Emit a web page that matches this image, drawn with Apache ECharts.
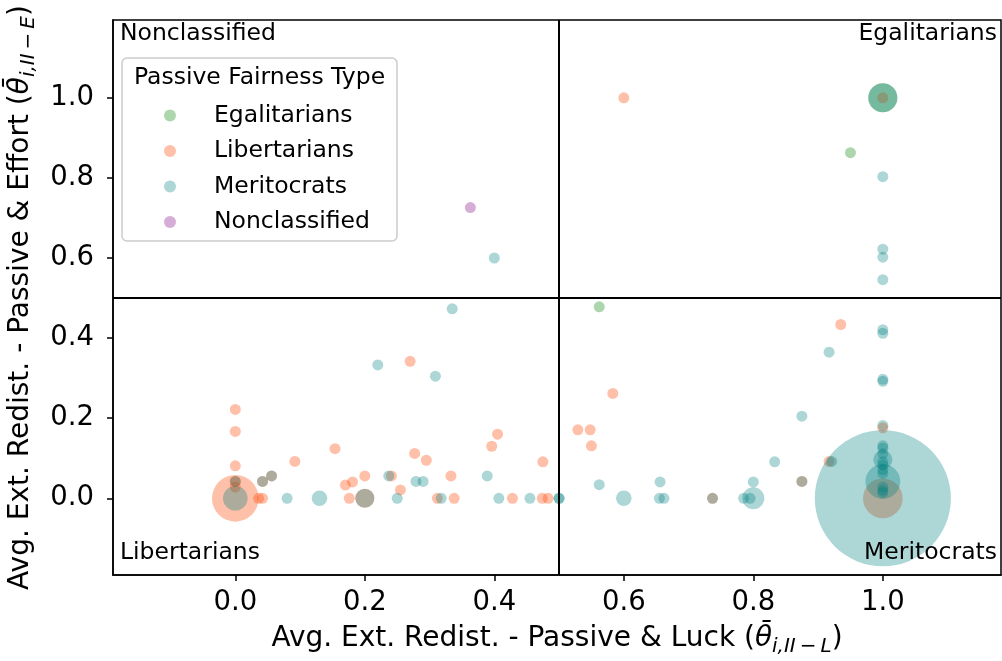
<!DOCTYPE html>
<html>
<head>
<meta charset="utf-8">
<script src="https://cdn.jsdelivr.net/npm/echarts@6/dist/echarts.min.js"></script>
<style>
  html, body { margin: 0; padding: 0; background: #ffffff; }
  #chart { width: 1002px; height: 661px; }
</style>
</head>
<body>
<div id="chart"></div>
<script>
// Each point: [avg. redistribution, passive & luck; avg. redistribution, passive & effort; participants]
const egalitarians = [
  [1.0, 1.0, 7], [0.95, 0.863, 1], [0.562, 0.478, 1]
];
const libertarians = [
  [0, 0, 18], [0, 0.222, 1], [0, 0.167, 1], [0, 0.081, 1], [0, 0.042, 1], [0, 0.028, 1],
  [0.036, 0, 1], [0.042, 0, 1], [0.042, 0.042, 1], [0.056, 0.056, 1], [0.092, 0.092, 1],
  [0.154, 0.124, 1], [0.170, 0.033, 1], [0.181, 0.041, 1], [0.176, 0, 1], [0.2, 0.056, 1],
  [0.2, 0, 3], [0.241, 0.056, 1], [0.270, 0.342, 1], [0.277, 0.112, 1], [0.295, 0.095, 1],
  [0.255, 0.021, 1], [0.333, 0.056, 1], [0.312, 0, 1], [0.338, 0, 1], [0.405, 0.160, 1],
  [0.396, 0.130, 1], [0.428, 0, 1], [0.475, 0.091, 1], [0.474, 0, 1], [0.483, 0, 1],
  [0.583, 0.262, 1], [0.529, 0.171, 1], [0.548, 0.171, 1], [0.550, 0.131, 1], [0.6, 1.0, 1],
  [0.737, 0, 1], [0.875, 0.042, 1], [0.917, 0.092, 1], [0.935, 0.434, 1], [1.0, 0.176, 1],
  [1.0, 1.0, 1], [1.0, 0, 13]
];
const meritocrats = [
  [0, 0, 5], [0, 0.042, 1], [0.042, 0.042, 1], [0.056, 0.056, 1], [0.08, 0, 1], [0.13, 0, 2],
  [0.2, 0, 3], [0.237, 0.056, 1], [0.22, 0.333, 1], [0.309, 0.305, 1], [0.335, 0.473, 1],
  [0.25, 0, 1], [0.279, 0.042, 1], [0.290, 0.042, 1], [0.318, 0, 1], [0.389, 0.056, 1],
  [0.407, 0, 1], [0.455, 0, 1], [0.4, 0.6, 1], [0.5, 0, 1], [0.5, 0, 1], [0.562, 0.034, 1],
  [0.6, 0, 2], [0.656, 0.041, 1], [0.655, 0, 1], [0.662, 0, 1], [0.737, 0, 1], [0.785, 0, 1],
  [0.795, 0, 1], [0.8, 0, 4], [0.8, 0.041, 1], [0.833, 0.091, 1], [0.875, 0.042, 1],
  [0.875, 0.205, 1], [0.917, 0.365, 1], [0.921, 0.092, 1],
  [1.0, 0, 153], [1.0, 1.0, 7], [1.0, 0.803, 1], [1.0, 0.622, 1], [1.0, 0.602, 1], [1.0, 0.546, 1],
  [1.0, 0.421, 1], [1.0, 0.412, 1], [1.0, 0.297, 1], [1.0, 0.292, 1], [1.0, 0.182, 1],
  [1.0, 0.131, 1], [1.0, 0.125, 1], [1.0, 0.111, 1], [1.0, 0.096, 3], [1.0, 0.091, 1],
  [1.0, 0.083, 1], [1.0, 0.071, 1], [1.0, 0.062, 1], [1.0, 0.042, 10], [1.0, 0.028, 1],
  [1.0, 0.02, 1], [1.0, 0.014, 1]
];
const nonclassified = [
  [0.363, 0.726, 1]
];

const typeNames = ['Egalitarians', 'Libertarians', 'Meritocrats', 'Nonclassified'];
const xTicks = [0, 0.2, 0.4, 0.6, 0.8, 1.0];
const yTicks = [0, 0.2, 0.4, 0.6, 0.8, 1.0];

const FONT = 'DejaVu Sans';
const colors = {
  Egalitarians: 'rgba(0,128,0,0.4)',
  Libertarians: 'rgba(255,69,0,0.42)',
  Meritocrats: 'rgba(0,128,128,0.4)',
  Nonclassified: 'rgba(128,0,128,0.4)'
};
const seriesData = [egalitarians, libertarians, meritocrats, nonclassified];

// marker diameter grows with the square root of the participant count (area ~ count)
const markerSize = v => 11 * Math.sqrt(v[2]);

const chart = echarts.init(document.getElementById('chart'), null, { renderer: 'canvas' });

const series = typeNames.map((name, i) => ({
  name: name,
  type: 'scatter',
  data: seriesData[i],
  symbol: 'circle',
  symbolSize: markerSize,
  itemStyle: { color: colors[name], borderWidth: 0 },
  emphasis: { disabled: true },
  silent: true
}));

// quadrant separators
series[series.length - 1].markLine = {
  silent: true,
  symbol: 'none',
  label: { show: false },
  lineStyle: { color: '#000', width: 2, type: 'solid' },
  emphasis: { disabled: true },
  data: [{ xAxis: 0.5 }, { yAxis: 0.5 }]
};

const axisName = (prefix, letter) => ({
  text: '{a|' + prefix + ' (}{t|\u03B8\u0304}{s|i,II\u2009\u2212\u2009' + letter + '}{a|)}',
  rich: {
    a: { fontSize: 28, fontFamily: FONT, color: '#000' },
    t: { fontSize: 28, fontFamily: FONT, fontStyle: 'italic', color: '#000' },
    s: { fontSize: 20, fontFamily: FONT, fontStyle: 'italic', color: '#000', padding: [17, 0, 0, 0] }
  }
});
const xName = axisName('Avg. Ext. Redist. - Passive & Luck', 'L');
const yName = axisName('Avg. Ext. Redist. - Passive & Effort', 'E');

const quadLabel = (text, x, y, align) => ({
  type: 'text',
  x: x, y: y, z: 100,
  style: {
    text: text, fill: '#000', font: '23.5px "' + FONT + '"',
    align: align, verticalAlign: 'middle'
  }
});

chart.setOption({
  animation: false,
  backgroundColor: '#fff',
  grid: {
    left: 113, right: 1, top: 20, bottom: 86,
    containLabel: false, outerBoundsMode: 'none',
    show: true, borderColor: '#000', borderWidth: 1.5, backgroundColor: 'transparent'
  },
  xAxis: {
    type: 'value',
    min: -0.1889, max: 1.1825,
    splitLine: { show: false },
    axisLine: { show: true, onZero: false, lineStyle: { color: '#000', width: 1.5 } },
    axisTick: { show: true, customValues: xTicks, length: 6, lineStyle: { color: '#000', width: 1.5 } },
    axisLabel: {
      customValues: xTicks, margin: 14, color: '#000', fontSize: 27.5, fontFamily: FONT,
      formatter: v => v.toFixed(1)
    },
    name: xName.text,
    nameLocation: 'middle',
    nameGap: 45,
    nameTextStyle: { rich: xName.rich }
  },
  yAxis: {
    type: 'value',
    min: -0.1915, max: 1.1943,
    splitLine: { show: false },
    axisLine: { show: true, onZero: false, lineStyle: { color: '#000', width: 1.5 } },
    axisTick: { show: true, customValues: yTicks, length: 6, lineStyle: { color: '#000', width: 1.5 } },
    axisLabel: {
      customValues: yTicks, margin: 19, color: '#000', fontSize: 27.5, fontFamily: FONT,
      formatter: v => v.toFixed(1)
    },
    name: yName.text,
    nameLocation: 'middle',
    nameRotate: 90,
    nameGap: 74,
    nameTextStyle: { rich: yName.rich }
  },
  legend: {
    orient: 'vertical',
    left: 164, top: 102.5,
    padding: 0,
    itemWidth: 78, itemHeight: 12, itemGap: 9.5,
    icon: 'circle',
    selectedMode: false,
    textStyle: { fontSize: 23.5, fontFamily: FONT, color: '#000', lineHeight: 26 },
    data: typeNames
  },
  graphic: [
    {
      type: 'rect', z: 1,
      shape: { x: 122, y: 58, width: 275, height: 183, r: 5 },
      style: { fill: 'rgba(255,255,255,0.8)', stroke: '#cccccc', lineWidth: 1.5 }
    },
    {
      type: 'text', z: 5, x: 259.5, y: 78,
      style: { text: 'Passive Fairness Type', fill: '#000', font: '23.5px "' + FONT + '"', align: 'center', verticalAlign: 'middle' }
    },
    quadLabel('Nonclassified', 120, 34, 'left'),
    quadLabel('Egalitarians', 997, 34, 'right'),
    quadLabel('Libertarians', 120, 553, 'left'),
    quadLabel('Meritocrats', 997, 553, 'right')
  ],
  series: series
});
</script>
</body>
</html>
